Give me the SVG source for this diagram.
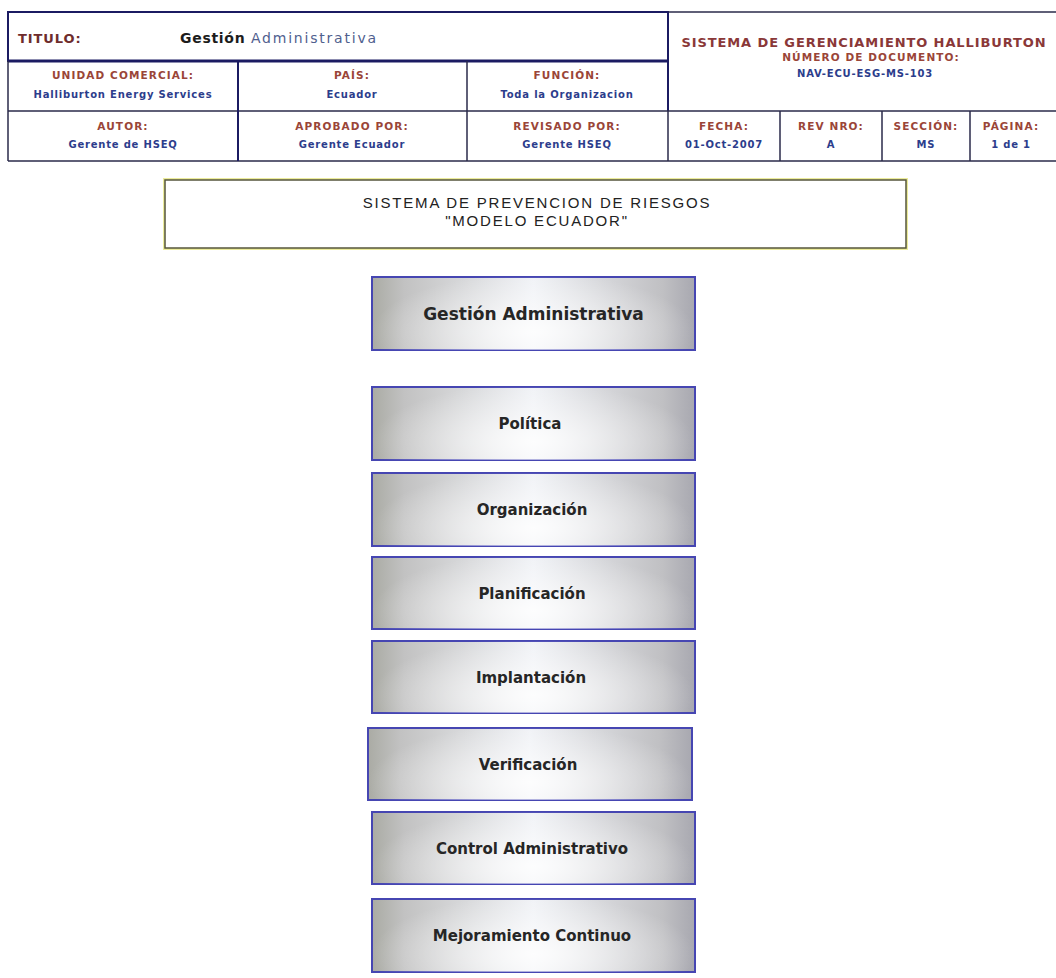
<svg xmlns="http://www.w3.org/2000/svg" width="1056" height="978" viewBox="0 0 1056 978">
  <defs>
    <style>
      .grid { stroke: #2a2a4a; stroke-width: 1.5; fill: none; }
      .navy { stroke: #1b1b62; stroke-width: 2; fill: none; }
      .lbl { font-family: "DejaVu Sans", Verdana, sans-serif; font-size: 10.5px; font-weight: bold; fill: #9a4538; text-anchor: middle; letter-spacing: 1.1px; }
      .val { font-family: "DejaVu Sans", Verdana, sans-serif; font-size: 10px; font-weight: bold; fill: #2c3d8c; text-anchor: middle; letter-spacing: 0.8px; }
      .step rect { fill: url(#stepFill); stroke: #4646b2; stroke-width: 2; }
      .step .glow { fill: url(#stepGlow); stroke: none; }
      .step text { font-family: "DejaVu Sans", Verdana, sans-serif; font-size: 15px; font-weight: bold; fill: #262626; text-anchor: middle; }
    </style>
    <linearGradient id="stepFill" x1="0" y1="0" x2="1" y2="0">
      <stop offset="0" stop-color="#aaaba4"/>
      <stop offset="0.1" stop-color="#c2c2c2"/>
      <stop offset="0.5" stop-color="#f0f2f6"/>
      <stop offset="0.9" stop-color="#c0c0c3"/>
      <stop offset="1" stop-color="#a8a8b0"/>
    </linearGradient>
    <radialGradient id="stepGlow" cx="0.5" cy="0.75" r="0.5" gradientTransform="translate(0.5 0.75) scale(1 1.6) translate(-0.5 -0.75)">
      <stop offset="0" stop-color="#ffffff" stop-opacity="0.85"/>
      <stop offset="1" stop-color="#ffffff" stop-opacity="0"/>
    </radialGradient>
  </defs>
  <rect width="1056" height="978" fill="#ffffff"/>

  <!-- document header table -->
  <g id="header">
    <rect x="8" y="12" width="660" height="49" fill="#fffef6" class="navy"/>
    <line x1="8" y1="61" x2="668" y2="61" stroke="#1b1b62" stroke-width="3"/>
    <line x1="668" y1="12" x2="1056" y2="12" class="grid"/>
    <line x1="668" y1="12" x2="668" y2="111" class="navy"/>
    <line x1="8" y1="61" x2="8" y2="161" class="grid"/>
    <line x1="8" y1="111" x2="1056" y2="111" class="grid"/>
    <line x1="8" y1="161" x2="1056" y2="161" class="grid"/>
    <line x1="238" y1="61" x2="238" y2="161" class="navy"/>
    <line x1="467" y1="61" x2="467" y2="161" class="grid"/>
    <line x1="668" y1="111" x2="668" y2="161" class="grid"/>
    <line x1="780" y1="111" x2="780" y2="161" class="grid"/>
    <line x1="882" y1="111" x2="882" y2="161" class="grid"/>
    <line x1="970" y1="111" x2="970" y2="161" class="grid"/>

    <text x="18" y="43" font-family="DejaVu Sans, Verdana, sans-serif" font-size="13px" font-weight="bold" fill="#6e2c2c" letter-spacing="0.9">TITULO:</text>
    <text x="180" y="43" font-family="DejaVu Sans, Verdana, sans-serif" font-size="14px" font-weight="bold" letter-spacing="0.7"><tspan fill="#1c1c1c">Gestión</tspan> <tspan fill="#50608e" font-weight="normal" letter-spacing="1.8">Administrativa</tspan></text>

    <text x="864" y="47" font-family="DejaVu Sans, Verdana, sans-serif" font-size="13px" font-weight="bold" fill="#8a3838" text-anchor="middle" letter-spacing="0.9">SISTEMA DE GERENCIAMIENTO HALLIBURTON</text>
    <text x="871" y="61" class="lbl">NÚMERO DE DOCUMENTO:</text>
    <text x="865" y="77" class="val">NAV-ECU-ESG-MS-103</text>

    <text x="123" y="79" class="lbl">UNIDAD COMERCIAL:</text>
    <text x="123" y="98" class="val">Halliburton Energy Services</text>
    <text x="352" y="79" class="lbl">PAÍS:</text>
    <text x="352" y="98" class="val">Ecuador</text>
    <text x="567" y="79" class="lbl">FUNCIÓN:</text>
    <text x="567" y="98" class="val">Toda la Organizacion</text>

    <text x="123" y="130" class="lbl">AUTOR:</text>
    <text x="123" y="148" class="val">Gerente de HSEQ</text>
    <text x="352" y="130" class="lbl">APROBADO POR:</text>
    <text x="352" y="148" class="val">Gerente Ecuador</text>
    <text x="567" y="130" class="lbl">REVISADO POR:</text>
    <text x="567" y="148" class="val">Gerente HSEQ</text>
    <text x="724" y="130" class="lbl">FECHA:</text>
    <text x="724" y="148" class="val">01-Oct-2007</text>
    <text x="831" y="130" class="lbl">REV NRO:</text>
    <text x="831" y="148" class="val">A</text>
    <text x="926" y="130" class="lbl">SECCIÓN:</text>
    <text x="926" y="148" class="val">MS</text>
    <text x="1011" y="130" class="lbl">PÁGINA:</text>
    <text x="1011" y="148" class="val">1 de 1</text>
  </g>

  <!-- model title -->
  <g id="model-title">
    <rect x="165" y="180" width="741" height="68" fill="#ffffff" stroke="#ecec9c" stroke-width="4"/>
    <rect x="165" y="180" width="741" height="68" fill="#ffffff" stroke="#56563c" stroke-width="1.5"/>
    <text x="537" y="208" font-family="Liberation Sans, Arial, sans-serif" font-size="15px" fill="#222222" text-anchor="middle" letter-spacing="1.8">SISTEMA DE PREVENCION DE RIESGOS</text>
    <text x="537" y="226" font-family="Liberation Sans, Arial, sans-serif" font-size="15px" fill="#222222" text-anchor="middle" letter-spacing="1.8">"MODELO ECUADOR"</text>
  </g>

  <!-- stages of the model -->
  <g id="gestion" class="step">
    <rect x="372" y="277" width="323" height="73"/>
    <rect class="glow" x="372" y="277" width="323" height="73"/>
    <text x="533.5" y="319.5" style="font-size:17px">Gestión Administrativa</text>
  </g>
  <g id="politica" class="step">
    <rect x="372" y="387" width="323" height="73"/>
    <rect class="glow" x="372" y="387" width="323" height="73"/>
    <text x="530" y="429">Política</text>
  </g>
  <g id="organizacion" class="step">
    <rect x="372" y="473" width="323" height="73"/>
    <rect class="glow" x="372" y="473" width="323" height="73"/>
    <text x="532" y="515">Organización</text>
  </g>
  <g id="planificacion" class="step">
    <rect x="372" y="557" width="323" height="72"/>
    <rect class="glow" x="372" y="557" width="323" height="72"/>
    <text x="532" y="598.5">Planificación</text>
  </g>
  <g id="implantacion" class="step">
    <rect x="372" y="641" width="323" height="72"/>
    <rect class="glow" x="372" y="641" width="323" height="72"/>
    <text x="531" y="682.5">Implantación</text>
  </g>
  <g id="verificacion" class="step">
    <rect x="368" y="728" width="324" height="72"/>
    <rect class="glow" x="368" y="728" width="324" height="72"/>
    <text x="528" y="769.5">Verificación</text>
  </g>
  <g id="control" class="step">
    <rect x="372" y="812" width="323" height="72"/>
    <rect class="glow" x="372" y="812" width="323" height="72"/>
    <text x="532" y="853.5">Control Administrativo</text>
  </g>
  <g id="mejoramiento" class="step">
    <rect x="372" y="899" width="323" height="73"/>
    <rect class="glow" x="372" y="899" width="323" height="73"/>
    <text x="532" y="941">Mejoramiento Continuo</text>
  </g>

  <g id="connectors"/>
</svg>
